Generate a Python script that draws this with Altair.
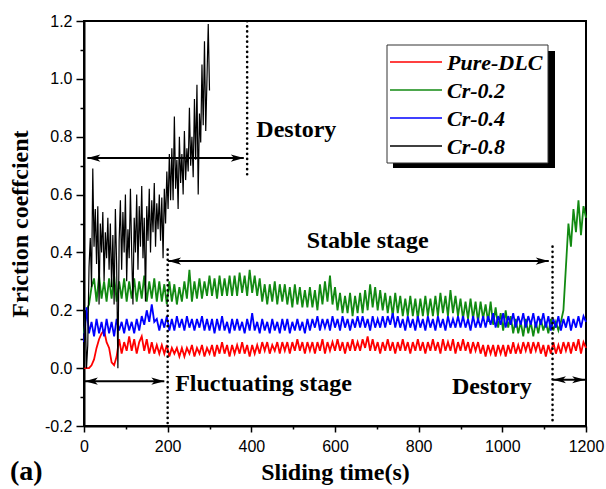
import altair as alt
import pandas as pd

# ---------------- data ----------------
series_names = ["Pure-DLC", "Cr-0.2", "Cr-0.4", "Cr-0.8"]
series_colors = ["#ff0000", "#128a12", "#0000ff", "#000000"]

t_grid = list(range(0, 1201, 6))      # sampling times of the three stable coatings
t_black = list(range(0, 301, 3))      # sampling times of Cr-0.8

pure_dlc = [
    0.00, 0.00, 0.00, 0.01, 0.03, 0.07, 0.10, 0.12, 0.13, 0.09,
    0.07, 0.02, 0.01, 0.04, 0.10, 0.05, 0.09, 0.06, 0.11, 0.06,
    0.10, 0.05, 0.09, 0.11, 0.06, 0.10, 0.05, 0.09, 0.05, 0.08,
    0.05, 0.08, 0.05, 0.08, 0.04, 0.07, 0.05, 0.07, 0.04, 0.07,
    0.04, 0.07, 0.05, 0.08, 0.04, 0.07, 0.05, 0.08, 0.04, 0.07,
    0.05, 0.08, 0.04, 0.08, 0.05, 0.09, 0.05, 0.08, 0.04, 0.08,
    0.05, 0.08, 0.05, 0.09, 0.05, 0.08, 0.04, 0.08, 0.05, 0.08,
    0.05, 0.09, 0.06, 0.09, 0.05, 0.08, 0.06, 0.09, 0.05, 0.09,
    0.06, 0.09, 0.05, 0.09, 0.06, 0.10, 0.06, 0.09, 0.05, 0.09,
    0.06, 0.09, 0.05, 0.09, 0.06, 0.10, 0.05, 0.09, 0.06, 0.09,
    0.06, 0.10, 0.06, 0.09, 0.05, 0.09, 0.06, 0.10, 0.06, 0.09,
    0.06, 0.10, 0.07, 0.11, 0.06, 0.10, 0.06, 0.09, 0.05, 0.09,
    0.06, 0.10, 0.06, 0.09, 0.05, 0.09, 0.06, 0.10, 0.06, 0.09,
    0.05, 0.09, 0.06, 0.10, 0.06, 0.09, 0.05, 0.09, 0.06, 0.10,
    0.06, 0.09, 0.05, 0.10, 0.06, 0.09, 0.06, 0.10, 0.05, 0.09,
    0.06, 0.10, 0.06, 0.09, 0.05, 0.09, 0.06, 0.09, 0.05, 0.08,
    0.04, 0.08, 0.05, 0.08, 0.04, 0.08, 0.05, 0.08, 0.04, 0.08,
    0.05, 0.09, 0.05, 0.08, 0.05, 0.09, 0.06, 0.09, 0.05, 0.09,
    0.06, 0.09, 0.05, 0.08, 0.04, 0.08, 0.05, 0.09, 0.05, 0.08,
    0.05, 0.09, 0.06, 0.09, 0.05, 0.09, 0.06, 0.10, 0.05, 0.09,
    0.07,
]

cr_02 = [
    0.12, 0.20, 0.22, 0.28, 0.31, 0.23, 0.32, 0.24, 0.30, 0.23,
    0.31, 0.24, 0.32, 0.23, 0.30, 0.24, 0.31, 0.23, 0.30, 0.24,
    0.31, 0.23, 0.30, 0.24, 0.32, 0.23, 0.30, 0.24, 0.31, 0.23,
    0.30, 0.23, 0.29, 0.22, 0.30, 0.23, 0.29, 0.22, 0.28, 0.23,
    0.30, 0.24, 0.34, 0.23, 0.30, 0.24, 0.31, 0.24, 0.30, 0.25,
    0.32, 0.25, 0.31, 0.24, 0.32, 0.25, 0.31, 0.25, 0.32, 0.25,
    0.32, 0.25, 0.33, 0.26, 0.32, 0.25, 0.34, 0.26, 0.32, 0.25,
    0.31, 0.23, 0.29, 0.22, 0.29, 0.23, 0.30, 0.22, 0.29, 0.23,
    0.29, 0.22, 0.28, 0.21, 0.29, 0.22, 0.28, 0.21, 0.27, 0.21,
    0.28, 0.21, 0.27, 0.20, 0.29, 0.22, 0.30, 0.23, 0.32, 0.22,
    0.28, 0.20, 0.26, 0.19, 0.25, 0.19, 0.26, 0.18, 0.25, 0.19,
    0.26, 0.19, 0.27, 0.20, 0.29, 0.21, 0.28, 0.20, 0.27, 0.20,
    0.26, 0.19, 0.25, 0.18, 0.26, 0.19, 0.25, 0.18, 0.24, 0.18,
    0.25, 0.18, 0.24, 0.17, 0.24, 0.18, 0.25, 0.18, 0.24, 0.18,
    0.25, 0.18, 0.26, 0.19, 0.25, 0.18, 0.27, 0.19, 0.25, 0.18,
    0.24, 0.17, 0.23, 0.17, 0.24, 0.17, 0.23, 0.16, 0.23, 0.17,
    0.22, 0.16, 0.23, 0.15, 0.21, 0.14, 0.19, 0.13, 0.20, 0.14,
    0.18, 0.12, 0.17, 0.12, 0.16, 0.11, 0.17, 0.12, 0.16, 0.11,
    0.16, 0.12, 0.17, 0.13, 0.16, 0.12, 0.17, 0.13, 0.16, 0.13,
    0.16, 0.20, 0.35, 0.50, 0.42, 0.55, 0.47, 0.58, 0.46, 0.56,
    0.52,
]

cr_04 = [
    0.09, 0.21, 0.12, 0.16, 0.11, 0.17, 0.12, 0.16, 0.11, 0.17,
    0.12, 0.16, 0.11, 0.17, 0.13, 0.16, 0.12, 0.17, 0.13, 0.16,
    0.12, 0.17, 0.13, 0.18, 0.15, 0.20, 0.16, 0.22, 0.16, 0.17,
    0.13, 0.17, 0.14, 0.18, 0.13, 0.17, 0.13, 0.18, 0.14, 0.17,
    0.13, 0.18, 0.14, 0.17, 0.13, 0.17, 0.14, 0.18, 0.13, 0.17,
    0.13, 0.17, 0.12, 0.17, 0.13, 0.18, 0.13, 0.16, 0.12, 0.17,
    0.13, 0.17, 0.13, 0.16, 0.12, 0.17, 0.13, 0.19, 0.13, 0.16,
    0.12, 0.17, 0.13, 0.16, 0.12, 0.17, 0.13, 0.16, 0.12, 0.17,
    0.13, 0.17, 0.12, 0.16, 0.13, 0.17, 0.13, 0.16, 0.12, 0.17,
    0.13, 0.17, 0.14, 0.18, 0.13, 0.17, 0.14, 0.17, 0.13, 0.18,
    0.14, 0.17, 0.13, 0.18, 0.14, 0.17, 0.13, 0.17, 0.14, 0.18,
    0.14, 0.18, 0.14, 0.17, 0.13, 0.18, 0.14, 0.17, 0.14, 0.18,
    0.14, 0.18, 0.15, 0.19, 0.14, 0.18, 0.14, 0.17, 0.13, 0.18,
    0.14, 0.17, 0.13, 0.18, 0.14, 0.17, 0.13, 0.18, 0.14, 0.17,
    0.13, 0.18, 0.14, 0.17, 0.13, 0.18, 0.14, 0.17, 0.14, 0.18,
    0.14, 0.18, 0.14, 0.17, 0.13, 0.18, 0.14, 0.17, 0.14, 0.18,
    0.14, 0.18, 0.15, 0.19, 0.14, 0.18, 0.15, 0.19, 0.14, 0.18,
    0.15, 0.19, 0.14, 0.18, 0.15, 0.19, 0.14, 0.18, 0.15, 0.19,
    0.14, 0.18, 0.15, 0.19, 0.14, 0.18, 0.13, 0.17, 0.14, 0.18,
    0.13, 0.17, 0.14, 0.18, 0.13, 0.17, 0.14, 0.18, 0.14, 0.18,
    0.16,
]

cr_08 = [
    0.00, 0.20, 0.00, 0.08, 0.35, 0.45, 0.28, 0.69, 0.42, 0.55,
    0.36, 0.56, 0.22, 0.50, 0.40, 0.54, 0.30, 0.47, 0.38, 0.52,
    0.34, 0.50, 0.28, 0.46, 0.22, 0.55, 0.36, 0.00, 0.44, 0.58,
    0.34, 0.54, 0.40, 0.60, 0.30, 0.48, 0.38, 0.62, 0.40, 0.22,
    0.52, 0.40, 0.60, 0.34, 0.56, 0.42, 0.63, 0.38, 0.52, 0.23,
    0.56, 0.44, 0.62, 0.40, 0.58, 0.47, 0.64, 0.42, 0.57, 0.48,
    0.60, 0.44, 0.59, 0.38, 0.62, 0.50, 0.68, 0.55, 0.74, 0.58,
    0.76, 0.58, 0.87, 0.62, 0.72, 0.55, 0.80, 0.64, 0.74, 0.60,
    0.82, 0.65, 0.76, 0.68, 0.90, 0.70, 0.80, 0.66, 0.93, 0.72,
    0.98, 0.60, 0.88, 0.78, 1.05, 0.84, 1.13, 0.82, 1.00, 1.19,
    0.96,
]

x_ticks = [0, 100, 200, 300, 400, 500, 600, 700, 800, 900, 1000, 1100, 1200]
y_ticks = [-0.2, -0.1, 0.0, 0.1, 0.2, 0.3, 0.4, 0.5, 0.6, 0.7, 0.8, 0.9, 1.0, 1.1, 1.2]

# annotations (data coordinates)
dot_x = [390, 200, 1120]
dot_y1 = [0.67, 0.41, 0.42]
dot_y2 = [1.2, -0.2, -0.19]

arrow_y = [0.726, 0.37, -0.045, -0.04]
arrow_x1 = [8, 201, 2, 1121]
arrow_x2 = [382, 1111, 192, 1198]

ann_text = ["Destory", "Stable stage", "Fluctuating stage", "Destory"]
ann_x = [412, 678, 218, 975]
ann_y = [0.823, 0.44, -0.055, -0.065]
ann_align = ["left", "center", "left", "center"]

# ---------------- tables ----------------
rows = []
for name, ts, vs in [
    ("Pure-DLC", t_grid, pure_dlc),
    ("Cr-0.2", t_grid, cr_02),
    ("Cr-0.4", t_grid, cr_04),
    ("Cr-0.8", t_black, cr_08),
]:
    for t, v in zip(ts, vs):
        rows.append({"series": name, "t": t, "f": v})
df = pd.DataFrame(rows)
dots = pd.DataFrame({"x": dot_x, "y1": dot_y1, "y2": dot_y2})
arrows = pd.DataFrame({"y": arrow_y, "x1": arrow_x1, "x2": arrow_x2})
anns = pd.DataFrame({"text": ann_text, "x": ann_x, "y": ann_y, "align": ann_align})

W, H = 502, 405
SERIF = "Liberation Serif"
SANS = "Liberation Sans"

xscale = alt.Scale(domain=[0, 1200], nice=False)
yscale = alt.Scale(domain=[-0.2, 1.2], nice=False)

x_axis = alt.Axis(
    values=x_ticks, format="d",
    labelExpr="datum.value % 200 === 0 ? datum.label : ''",
    tickSize={"condition": {"test": "datum.value % 200 === 0", "value": 6}, "value": 3},
    title="Sliding time(s)", titlePadding=6, labelPadding=6, labelFlush=False,
)
y_axis = alt.Axis(
    values=y_ticks, format=".1f",
    labelExpr="round(datum.value * 10) % 2 === 0 ? replace(datum.label, '\u2212', '-') : ''",
    tickSize={"condition": {"test": "round(datum.value * 10) % 2 === 0", "value": 8}, "value": 4},
    title="Friction coeffcient", titlePadding=12, labelPadding=4, labelFlush=False,
)


def X(field):
    return alt.X(field, type="quantitative", scale=xscale, axis=x_axis)


def Y(field):
    return alt.Y(field, type="quantitative", scale=yscale, axis=y_axis)


base = alt.Chart(df)
layers = []
draw_order = ["Cr-0.2", "Pure-DLC", "Cr-0.4", "Cr-0.8"]
for name in draw_order:
    col = series_colors[series_names.index(name)]
    sw = 1.2 if name == "Cr-0.8" else 1.8
    layers.append(
        base.transform_filter(alt.datum.series == name)
        .mark_line(color=col, strokeWidth=sw)
        .encode(x=X("t"), y=Y("f"), order="t:Q")
    )

dotted = alt.Chart(dots).mark_rule(
    color="black", strokeWidth=2.6, strokeDash=[0.1, 5], strokeCap="round"
).encode(x=X("x"), y=Y("y1"), y2="y2:Q")

arrow_lines = alt.Chart(arrows).mark_rule(color="black", strokeWidth=2).encode(
    x=X("x1"), x2="x2:Q", y=Y("y")
)
left_head = alt.Chart(arrows).mark_point(
    shape="M0,0 L2,-0.55 L1.5,0 L2,0.55 Z", filled=True, color="black", opacity=1, size=169
).encode(x=X("x1"), y=Y("y"))
right_head = alt.Chart(arrows).mark_point(
    shape="M0,0 L-2,-0.55 L-1.5,0 L-2,0.55 Z", filled=True, color="black", opacity=1, size=169
).encode(x=X("x2"), y=Y("y"))

texts = []
for al in ["left", "center"]:
    texts.append(
        alt.Chart(anns).transform_filter(alt.datum.align == al)
        .mark_text(font=SERIF, fontWeight="bold", fontSize=24, align=al, baseline="middle", color="black")
        .encode(x=X("x"), y=Y("y"), text="text:N")
    )

# ---------------- custom legend (pixel layout) ----------------
one = pd.DataFrame({"k": [0]})
legend_layers = [
    alt.Chart(one).mark_rect(color="black").encode(
        x=alt.value(309), x2=alt.value(471), y=alt.value(30), y2=alt.value(147)),
    alt.Chart(one).mark_rect(fill="white", stroke="#333333", strokeWidth=1).encode(
        x=alt.value(303), x2=alt.value(464), y=alt.value(24), y2=alt.value(142)),
]
for i, name in enumerate(series_names):
    ly = 41 + 28 * i
    legend_layers.append(
        alt.Chart(one).mark_rule(color=series_colors[i], strokeWidth=1.5).encode(
            x=alt.value(306), x2=alt.value(358), y=alt.value(ly))
    )
    legend_layers.append(
        alt.Chart(one).mark_text(
            font=SERIF, fontStyle="italic", fontWeight="bold", fontSize=22,
            align="left", baseline="middle", color="black"
        ).encode(x=alt.value(363), y=alt.value(ly + 1), text=alt.value(name))
    )

panel_label = alt.Chart(one).mark_text(
    font=SERIF, fontWeight="bold", fontSize=28, align="left", baseline="alphabetic", color="black"
).encode(x=alt.value(-74), y=alt.value(459), text=alt.value("(a)"))

chart = alt.layer(
    *layers, dotted, arrow_lines, left_head, right_head, *texts, *legend_layers, panel_label
).properties(
    width=W, height=H,
    autosize=alt.AutoSizeParams(type="none"),
    padding={"left": 84, "top": 21, "right": 20, "bottom": 63},
).configure_view(
    stroke="black", strokeWidth=2
).configure_axis(
    grid=False, domainColor="black", domainWidth=2, tickColor="black", tickWidth=1.5,
    labelFont=SANS, labelFontSize=16, labelColor="black",
    titleFont=SERIF, titleFontSize=24, titleFontWeight="bold", titleColor="black",
)

chart.save("out.html", embed_options={"renderer": "svg", "actions": False})
